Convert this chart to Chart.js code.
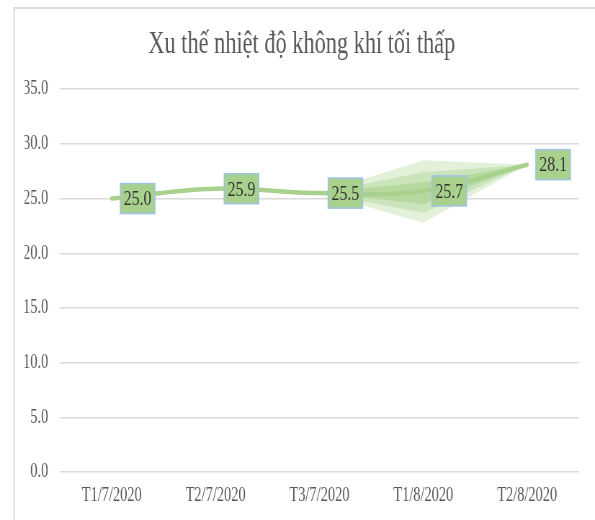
<!DOCTYPE html>
<html>
<head>
<meta charset="utf-8">
<script src="https://cdn.jsdelivr.net/npm/chart.js@4"></script>
<style>
  html, body { margin:0; padding:0; background:#fff; overflow:hidden; width:595px; height:520px; }
  #wrap { position:absolute; left:0; top:0; width:826px; height:520px; transform:scaleX(0.7203); transform-origin:0 0; }
</style>
</head>
<body>
<div id="wrap"><canvas id="c" width="826" height="520"></canvas></div>
<script>
const title = 'Xu thế nhiệt độ không khí tối thấp';
const categories = ['T1/7/2020', 'T2/7/2020', 'T3/7/2020', 'T1/8/2020', 'T2/8/2020'];
const values = [25.0, 25.9, 25.5, 25.7, 28.1];
// forecast-like fan drawn around the last segments
const fanInnerHigh = [null, null, 25.5, 26.5, 28.1];
const fanInnerLow  = [null, null, 25.5, 24.5, 28.1];
const fanMidHigh   = [null, null, 25.5, 27.4, 28.1];
const fanMidLow    = [null, null, 25.5, 23.7, 28.1];
const fanOuterHigh = [null, null, 25.5, 28.5, 28.1];
const fanOuterLow  = [null, null, 25.5, 22.8, 28.1];
const yMin = 0, yMax = 35, yStep = 5;

const SERIF = '"Liberation Serif", "Times New Roman", serif';
const GREEN = '#a9d18e';

function fanDs(data, color, fill) {
  return { data, borderWidth: 0, borderColor: 'rgba(0,0,0,0)', backgroundColor: color,
           fill, pointRadius: 0, tension: 0, spanGaps: false };
}

const framePlugin = {
  id: 'frame',
  beforeDraw(chart) {
    const ctx = chart.ctx;
    ctx.save();
    ctx.strokeStyle = '#d9d9d9';
    ctx.lineWidth = 2;
    ctx.beginPath();
    ctx.moveTo(19.5, chart.height);
    ctx.lineTo(19.5, 8);
    ctx.lineTo(chart.width, 8);
    ctx.stroke();
    ctx.restore();
  }
};

const labelPlugin = {
  id: 'boxLabels',
  afterDatasetsDraw(chart) {
    const ctx = chart.ctx;
    const meta = chart.getDatasetMeta(0);
    ctx.save();
    ctx.font = '22px ' + SERIF;
    ctx.textAlign = 'center';
    ctx.textBaseline = 'middle';
    meta.data.forEach((pt, i) => {
      const w = 48, h = 30;
      const x = pt.x + 12, y = pt.y - h / 2;
      ctx.fillStyle = GREEN;
      ctx.fillRect(x, y, w, h);
      ctx.strokeStyle = '#9dc3e6';
      ctx.lineWidth = 1.5;
      ctx.strokeRect(x, y, w, h);
      ctx.fillStyle = '#333333';
      ctx.fillText(values[i].toFixed(1), x + w / 2, pt.y + 1);
    });
    ctx.restore();
  }
};

new Chart(document.getElementById('c'), {
  type: 'line',
  data: {
    labels: categories,
    datasets: [
      { data: values, borderColor: GREEN, borderWidth: 4.5, borderCapStyle: 'round',
        pointRadius: 0, tension: 0.4, fill: false },
      fanDs(fanInnerHigh, '#b7d9a0', '+1'),
      fanDs(fanInnerLow, 'rgba(0,0,0,0)', false),
      fanDs(fanMidHigh, '#cbe4bb', '+1'),
      fanDs(fanMidLow, 'rgba(0,0,0,0)', false),
      fanDs(fanOuterHigh, '#e3f0da', '+1'),
      fanDs(fanOuterLow, 'rgba(0,0,0,0)', false)
    ]
  },
  options: {
    responsive: false,
    animation: false,
    devicePixelRatio: 1,
    layout: { padding: { left: 34, right: 22, top: 0, bottom: 12 } },
    plugins: {
      legend: { display: false },
      tooltip: { enabled: false },
      title: {
        display: true, text: title, color: '#595959',
        font: { family: SERIF, size: 31, weight: 'normal' },
        padding: { top: 26, bottom: 26 }
      }
    },
    scales: {
      x: {
        offset: true,
        grid: { display: false, drawTicks: false },
        border: { display: false },
        ticks: { color: '#595959', font: { family: SERIF, size: 20 }, padding: 12, maxRotation: 0 },
        afterFit(s) { s.height = 36; }
      },
      y: {
        min: yMin, max: yMax,
        grid: { color: '#d9d9d9', lineWidth: 1.5, drawTicks: false },
        border: { display: false },
        ticks: { stepSize: yStep, color: '#595959', font: { family: SERIF, size: 20 }, padding: 16,
                 callback: v => Number(v).toFixed(1) },
        afterFit(s) { s.width = 49; }
      }
    }
  },
  plugins: [framePlugin, labelPlugin]
});
</script>
</body>
</html>
